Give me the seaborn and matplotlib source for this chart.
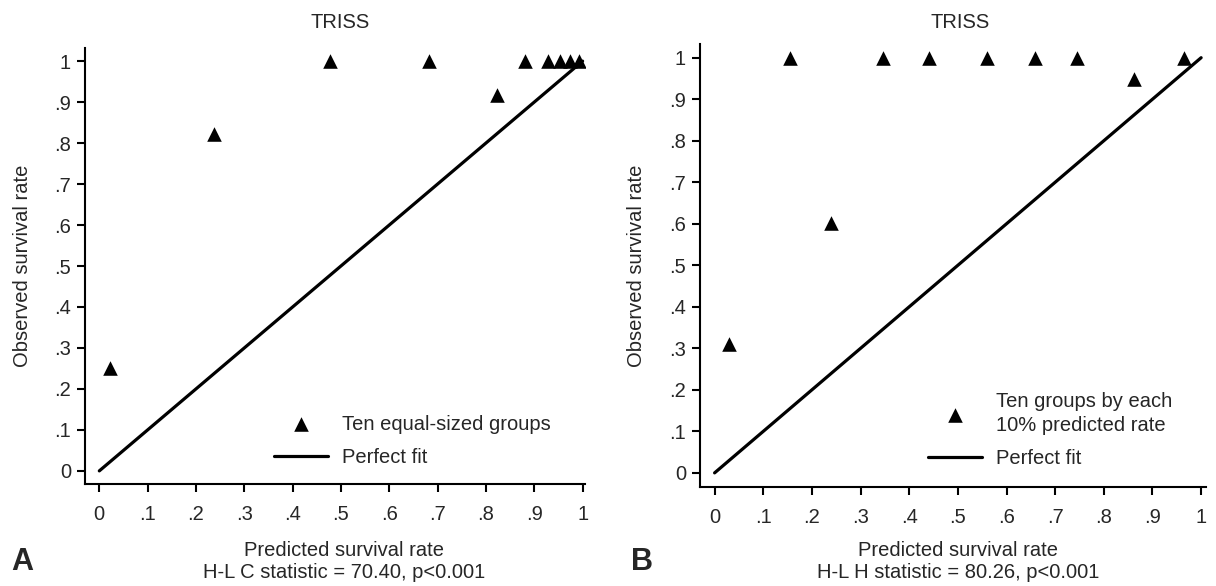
import matplotlib
matplotlib.use("Agg")
import matplotlib.pyplot as plt
import seaborn as sns

# Panel A: ten equal-sized groups
pred_a = [0.022, 0.238, 0.478, 0.683, 0.823, 0.881, 0.929, 0.953, 0.973, 0.993]
obs_a = [0.251, 0.822, 1.0, 1.0, 0.917, 1.0, 1.0, 1.0, 1.0, 1.0]

# Panel B: ten groups by each 10% of predicted rate
pred_b = [0.029, 0.154, 0.240, 0.347, 0.441, 0.559, 0.658, 0.745, 0.861, 0.964]
obs_b = [0.310, 1.0, 0.602, 1.0, 1.0, 1.0, 1.0, 1.0, 0.949, 1.0]

# perfect fit diagonal
fit_x = [0, 1]
fit_y = [0, 1]

tick_values = [0, 0.1, 0.2, 0.3, 0.4, 0.5, 0.6, 0.7, 0.8, 0.9, 1.0]
tick_labels = ["0", ".1", ".2", ".3", ".4", ".5", ".6", ".7", ".8", ".9", "1"]

panels = [
    {
        "letter": "A",
        "pred": pred_a,
        "obs": obs_a,
        "group_label": "Ten equal-sized groups",
        "stat": "H-L C statistic = 70.40, p<0.001",
    },
    {
        "letter": "B",
        "pred": pred_b,
        "obs": obs_b,
        "group_label": "Ten groups by each\n10% predicted rate",
        "stat": "H-L H statistic = 80.26, p<0.001",
    },
]

sns.set_style("ticks")
plt.rcParams["font.family"] = ["Liberation Sans Narrow", "Liberation Sans", "DejaVu Sans"]
FS = 14.5
W, H = 1216, 586

fig = plt.figure(figsize=(W / 100, H / 100), dpi=100)

# layout in pixels: axes rect, limits, text anchors
layout = [
    {"rect": (85, 48, 585, 484), "xlim": (-0.0296, 1.005), "ylim": (-0.032, 1.032),
     "title_x": 340, "ylab_x": 23, "xlab_x": 344, "letter_x": 22,
     "leg": (274, 441)},
    {"rect": (700, 44, 1206, 487), "xlim": (-0.030, 1.010), "ylim": (-0.034, 1.033),
     "title_x": 960, "ylab_x": 637, "xlab_x": 958, "letter_x": 642,
     "leg": (928, 430)},
]

for p, lay in zip(panels, layout):
    x0, y0, x1, y1 = lay["rect"]
    ax = fig.add_axes([x0 / W, 1 - y1 / H, (x1 - x0) / W, (y1 - y0) / H])

    sns.scatterplot(x=p["pred"], y=p["obs"], marker="^", s=110, color="black",
                    linewidth=0, ax=ax, label=p["group_label"], zorder=3)
    sns.lineplot(x=fit_x, y=fit_y, color="black", linewidth=2.3, ax=ax,
                 label="Perfect fit")

    ax.set_xlim(*lay["xlim"])
    ax.set_ylim(*lay["ylim"])
    ax.set_xticks(tick_values)
    ax.set_xticklabels(tick_labels)
    ax.set_yticks(tick_values)
    ax.set_yticklabels(tick_labels)
    ax.tick_params(axis="both", direction="out", length=6, width=1.5,
                   labelsize=FS, color="black")
    ax.tick_params(axis="x", pad=9)
    ax.tick_params(axis="y", pad=4)
    sns.despine(ax=ax)
    for side in ["left", "bottom"]:
        ax.spines[side].set_linewidth(1.5)
        ax.spines[side].set_color("black")
    ax.set_xlabel("")
    ax.set_ylabel("")

    handles, labels = ax.get_legend_handles_labels()
    lx, ly = lay["leg"]
    leg = ax.legend(handles, labels, loc="center left",
                    bbox_to_anchor=(lx / W, 1 - ly / H), bbox_transform=fig.transFigure,
                    frameon=False, borderpad=0, borderaxespad=0, handlelength=2.7,
                    handletextpad=0.7, labelspacing=0.72, fontsize=FS)
    for t in leg.get_texts():
        t.set_linespacing(1.36)

    fig.text(lay["title_x"] / W, 1 - 22 / H, "TRISS", ha="center", va="center",
             fontsize=FS)
    fig.text(lay["ylab_x"] / W, 1 - ((y0 + y1) / 2) / H, "Observed survival rate",
             rotation=90, ha="center", va="center", fontsize=FS)
    fig.text(lay["xlab_x"] / W, 1 - 550 / H, "Predicted survival rate",
             ha="center", va="center", fontsize=FS)
    fig.text(lay["xlab_x"] / W, 1 - 573 / H, p["stat"],
             ha="center", va="center", fontsize=FS)
    fig.text(lay["letter_x"] / W, 1 - 562 / H, p["letter"], ha="center", va="center",
             fontsize=22, fontweight="bold", family="Liberation Sans")

fig.savefig("out.png", dpi=100)
